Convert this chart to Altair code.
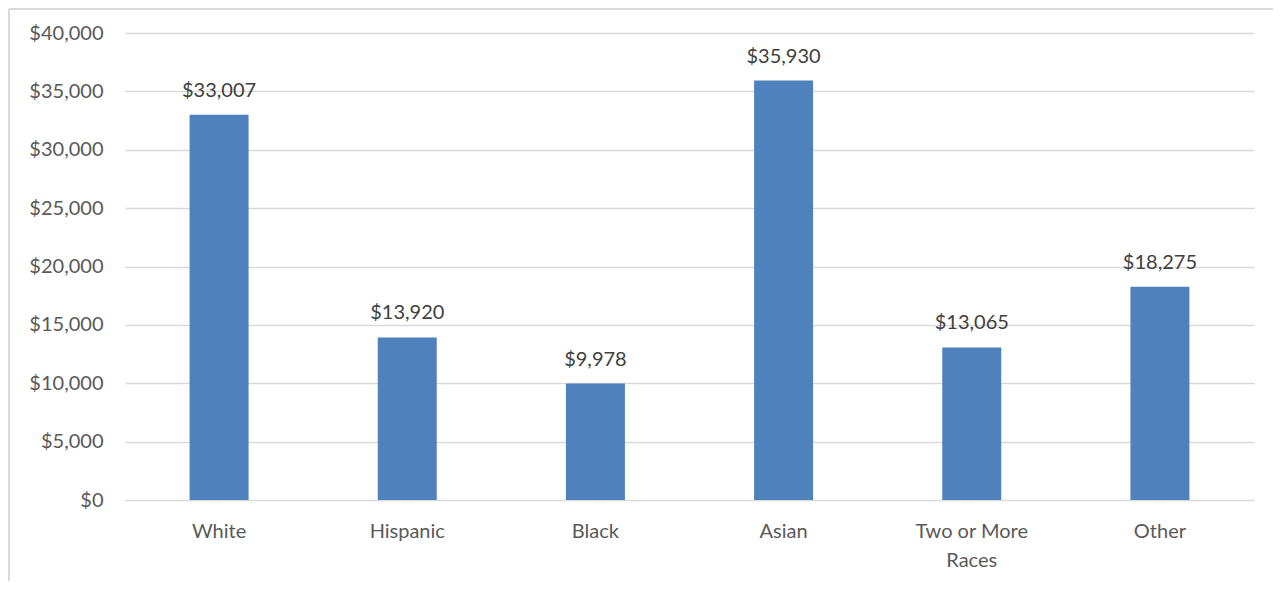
import altair as alt
import pandas as pd

categories = ["White", "Hispanic", "Black", "Asian", "Two or More Races", "Other"]
values = [33007, 13920, 9978, 35930, 13065, 18275]

df = pd.DataFrame({"group": categories, "value": values})

FONT = "Lato"
W, H = 1129, 467

x = alt.X("group:N", sort=categories, title=None,
          scale=alt.Scale(paddingInner=0, paddingOuter=0),
          axis=alt.Axis(labelAngle=0, labelFont=FONT, labelFontSize=20,
                        labelColor="#595959", labelPadding=21, ticks=False,
                        domain=False, grid=False, labelLineHeight=29,
                        labelExpr="datum.label == 'Two or More Races' ? ['Two or More', 'Races'] : datum.label"))
y = alt.Y("value:Q", title=None,
          scale=alt.Scale(domain=[0, 40000], nice=False),
          axis=alt.Axis(values=list(range(0, 40001, 5000)), format="$,d",
                        labelFont=FONT, labelFontSize=20, labelColor="#595959",
                        labelPadding=22, ticks=False, domain=False,
                        grid=True, gridColor="#d9d9d9", gridWidth=1.5))

bars = alt.Chart(df).mark_bar(width=59, color="#4F81BD").encode(x=x, y=y)
labels = alt.Chart(df).mark_text(baseline="bottom", dy=-14, font=FONT, fontSize=20,
                                 color="#404040").encode(
    x=alt.X("group:N", sort=categories),
    y="value:Q",
    text=alt.Text("value:Q", format="$,d"))

frame_left = alt.Chart(df).mark_rule(color="#d9d9d9", strokeWidth=2, clip=False).encode(
    x=alt.value(-116), y=alt.value(-24), y2=alt.value(H + 82))
frame_top = alt.Chart(df).mark_rule(color="#d9d9d9", strokeWidth=2, clip=False).encode(
    x=alt.value(-116), x2=alt.value(W + 20), y=alt.value(-24))

chart = alt.layer(frame_left, frame_top, bars, labels).properties(
    width=W, height=H, padding={"left": 117, "top": 25, "right": 19, "bottom": 81},
    autosize=alt.AutoSizeParams(type="none"),
    background="white"
).configure_view(stroke=None)

chart.save("out.html", embed_options={"renderer": "svg", "actions": False})
